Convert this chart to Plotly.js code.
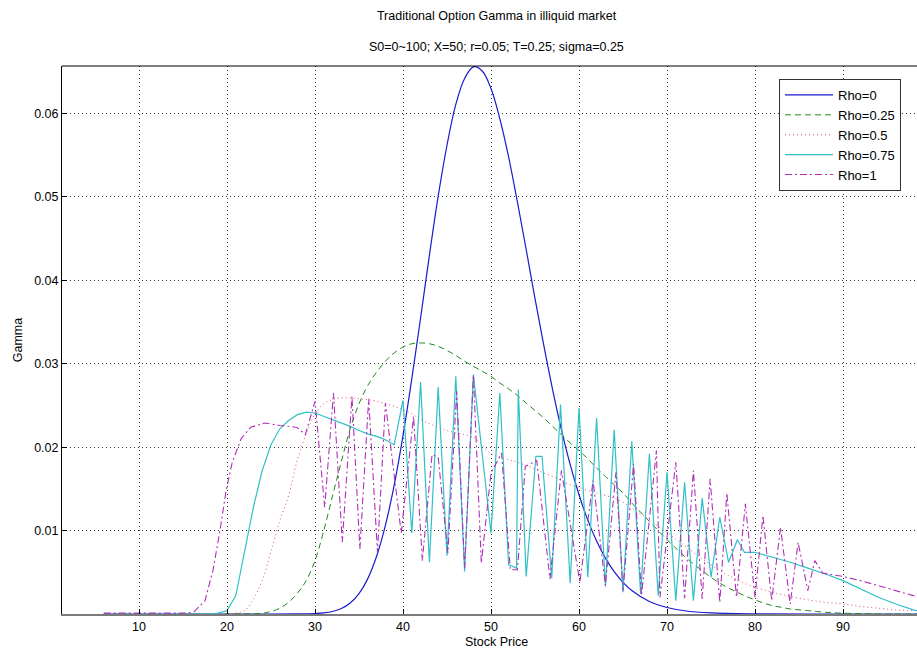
<!DOCTYPE html>
<html>
<head>
<meta charset="utf-8">
<script src="https://cdn.plot.ly/plotly-3.0.1.min.js"></script>
<style>
html,body{margin:0;padding:0;overflow:hidden;background:#fff;width:917px;height:657px;}
#chart{width:940px;height:657px;}
</style>
</head>
<body>
<div id="chart"></div>
<script>
// ---- data ----
var seriesNames = ["Rho=0", "Rho=0.25", "Rho=0.5", "Rho=0.75", "Rho=1"];
var xTicks = [10, 20, 30, 40, 50, 60, 70, 80, 90];
var yTicks = [0.01, 0.02, 0.03, 0.04, 0.05, 0.06];
var yTickLabels = ["0.01", "0.02", "0.03", "0.04", "0.05", "0.06"];

var rho0X = [6,10,15,20,25,28,30,31,32,33,34,35,36,37,38,39,40,41,42,43,44,45,46,47,48,49,50,51,52,53,54,55,56,57,58,59,60,61,62,63,64,65,66,68,70,72,75,80,90,100];
var rho0Y = [0,0,0,0,0,0.000005,0.00005,0.00013,0.0003,0.00065,0.00131,0.00244,0.00424,0.00692,0.01063,0.01545,0.02138,0.0282,0.0355,0.0430,0.0501,0.0562,0.0611,0.0642,0.0656,0.0651,0.0630,0.0594,0.0548,0.0494,0.0437,0.0378,0.0322,0.0269,0.0221,0.0179,0.0143,0.01125,0.00874,0.0067,0.00508,0.0038,0.00282,0.0015,0.00078,0.00039,0.00013,0.00002,0,0];

var rho025X = [6,20,24,25,26,27,28,29,30,31,32,33,34,35,36,37,38,39,40,41,42,43,44,45,46,47,48,49,50,51,52,53,54,55,56,57,58,59,60,61,62,63,64,65,66,67,68,69,70,71,72,73,74,75,76,77,78,79,80,81,82,83,84,85,86,87,88,90,95,100];
var rho025Y = [0,0,0.0001,0.0003,0.0007,0.0014,0.0025,0.0040,0.0064,0.0100,0.0142,0.0183,0.0222,0.0252,0.0274,0.0290,0.0303,0.0313,0.0320,0.0324,0.0325,0.0324,0.0321,0.0316,0.0310,0.0303,0.0297,0.0291,0.0285,0.0277,0.0270,0.0262,0.0253,0.0244,0.0235,0.0225,0.0215,0.0205,0.0196,0.0186,0.0175,0.0165,0.0155,0.0145,0.0133,0.0122,0.0111,0.0100,0.0089,0.0079,0.0069,0.0060,0.0052,0.0044,0.0037,0.0031,0.0026,0.0021,0.0017,0.0013,0.0010,0.0008,0.0006,0.0005,0.0004,0.0003,0.0002,0.0001,0,0];

var rho05X = [6,19,21,22,23,24,25,26,27,28,29,30,31,32,33,34,35,36,37,38,39,40,41,42,43,44,45,46,47,48,49,50,51,52,53,54,55,56,57,58,59,60,61,62,63,64,65,66,67,68,69,70,71,72,73,74,75,76,77,78,79,80,82,84,86,88,90,92,94,96,98,100];
var rho05Y = [0,0,0.0001,0.0004,0.0018,0.0040,0.0075,0.0112,0.0142,0.0185,0.0216,0.0240,0.0252,0.0257,0.0259,0.0259,0.0258,0.0257,0.0255,0.0252,0.0249,0.0245,0.0240,0.0233,0.0228,0.0224,0.0220,0.0217,0.0215,0.0212,0.0203,0.0192,0.0188,0.0185,0.0182,0.0178,0.0174,0.0169,0.0165,0.0160,0.0155,0.0152,0.0148,0.0145,0.0142,0.0139,0.0134,0.0127,0.0120,0.0113,0.0105,0.0098,0.0090,0.0082,0.0074,0.0066,0.0059,0.0052,0.0046,0.0041,0.0036,0.0032,0.0026,0.0021,0.0017,0.0014,0.0012,0.0009,0.0007,0.0005,0.0004,0.0003];

var rho075X = [6,18,19,20,21,22,23,24,25,26,27,28,29,30,31,32,33,34,35,36,37,38,39,40,41,42,43,44,45,46,47,48,50,51,52,52.9,53.1,54,55.1,55.8,56.9,57.9,59,60,61,62,63,64,65,66,67,68,69,70,71,72,73,74,75,76,77,78,78.8,80,82,84,86,88,90,92,94,96,98,100];
var rho075Y = [0,0,0.0001,0.0004,0.0022,0.0075,0.0128,0.0172,0.0203,0.0222,0.0232,0.0239,0.0242,0.0241,0.0237,0.0233,0.0229,0.0225,0.0220,0.0216,0.0213,0.0209,0.0203,0.0256,0.0097,0.0278,0.0062,0.0272,0.0070,0.0285,0.0051,0.0287,0.0097,0.0265,0.0059,0.0055,0.0269,0.0045,0.0189,0.0189,0.0043,0.0251,0.0037,0.0247,0.0044,0.0235,0.0033,0.0221,0.0026,0.0207,0.0024,0.0192,0.0022,0.0170,0.0016,0.0158,0.0016,0.0139,0.0044,0.0116,0.0062,0.0089,0.0074,0.0074,0.0068,0.0062,0.0055,0.0048,0.0040,0.0030,0.0020,0.0012,0.0005,0.0001];

var rho1X = [6,15,16.2,17.5,18.4,19.2,19.9,20.6,21.6,22.7,24.3,26,27.9,28.9,30,31.1,32.1,33.1,34.2,35.1,36.1,37.1,38,39.8,41.2,42.2,43.3,44,45.1,46.1,47,48,48.9,50,51.2,52.2,53,53.9,55.2,56.7,58,60.1,61.6,63,64.2,65,66.2,67.1,68.8,69.2,71,72,73,74,74.9,76,76.8,77.9,78.9,80,80.9,81.9,82.9,84,84.9,86,86.8,87.7,90,92,94,96,98,100];
var rho1Y = [0.0001,0.0001,0.0002,0.0016,0.0052,0.0100,0.0148,0.0182,0.0210,0.0224,0.0229,0.0226,0.0224,0.0215,0.0255,0.0128,0.0265,0.0086,0.0261,0.0078,0.0258,0.0074,0.0253,0.0097,0.0237,0.0064,0.0191,0.0188,0.0073,0.0267,0.0055,0.0287,0.0061,0.0169,0.0193,0.0053,0.0053,0.0177,0.0184,0.0042,0.0172,0.0038,0.0160,0.0034,0.0170,0.0028,0.0180,0.0022,0.0196,0.0020,0.0182,0.0019,0.0172,0.0018,0.0162,0.0014,0.0145,0.0020,0.0132,0.0020,0.0118,0.0016,0.0104,0.0012,0.0086,0.0028,0.0064,0.0049,0.0045,0.0040,0.0034,0.0028,0.0022,0.0017];

// ---- traces ----
var traces = [
  {x: rho0X, y: rho0Y, name: seriesNames[0], type: "scatter", mode: "lines",
   line: {color: "#1a1ad0", width: 1.2, shape: "spline"}},
  {x: rho025X, y: rho025Y, name: seriesNames[1], type: "scatter", mode: "lines",
   line: {color: "#1f8a1f", width: 1, dash: "6px,4px", shape: "spline"}},
  {x: rho05X, y: rho05Y, name: seriesNames[2], type: "scatter", mode: "lines",
   line: {color: "#e0507a", width: 1, dash: "1px,3px", shape: "spline"}},
  {x: rho075X, y: rho075Y, name: seriesNames[3], type: "scatter", mode: "lines",
   line: {color: "#30c0c8", width: 1.2}},
  {x: rho1X, y: rho1Y, name: seriesNames[4], type: "scatter", mode: "lines",
   line: {color: "#b030b8", width: 1.1, dash: "7px,3px,2px,3px"}}
];

var fontFam = "Liberation Sans, Arial, sans-serif";

var layout = {
  width: 940, height: 657,
  margin: {l: 62, r: 9, t: 66, b: 43},
  paper_bgcolor: "#ffffff", plot_bgcolor: "#ffffff",
  font: {family: fontFam, size: 12, color: "#000"},
  showlegend: true,
  title: {text: "Traditional Option Gamma in illiquid market",
          font: {family: fontFam, size: 12.5, color: "#000"},
          x: 0.5, xref: "paper", y: 1 - 16/657, yref: "container", yanchor: "middle"},
  xaxis: {
    range: [1.25, 100], tickmode: "array", tickvals: xTicks,
    ticks: "inside", ticklen: 5, tickcolor: "#000",
    showgrid: true, gridcolor: "#333", griddash: "1px,3px", gridwidth: 1,
    zeroline: false, showline: true, linecolor: "#7a7a7a", linewidth: 2,
    tickfont: {family: fontFam, size: 12.5},
    title: {text: "Stock Price", font: {family: fontFam, size: 12.5}, standoff: 4}
  },
  yaxis: {
    range: [0, 0.0657], tickmode: "array", tickvals: yTicks, ticktext: yTickLabels,
    ticks: "inside", ticklen: 5, tickcolor: "#000",
    showgrid: true, gridcolor: "#333", griddash: "1px,3px", gridwidth: 1,
    zeroline: false, showline: true, linecolor: "#000", linewidth: 1,
    tickfont: {family: fontFam, size: 12.5},
    title: {text: "Gamma", font: {family: fontFam, size: 12.5}, standoff: 8}
  },
  legend: {
    x: (779 - 62) / 869, y: (614 - 79) / 548, xanchor: "left", yanchor: "top",
    bgcolor: "#ffffff", bordercolor: "#333", borderwidth: 1,
    font: {family: fontFam, size: 13, color: "#000"},
    itemwidth: 48, tracegroupgap: 0
  },
  annotations: [
    {text: "S0=0~100; X=50; r=0.05; T=0.25; sigma=0.25", xref: "paper", yref: "paper",
     x: 0.5, y: 1 + (66 - 47) / 548, xanchor: "center", yanchor: "middle",
     showarrow: false, font: {family: fontFam, size: 12.5, color: "#000"}}
  ],
  shapes: [
    {type: "line", xref: "paper", yref: "paper", x0: 0, x1: 1, y0: 1, y1: 1,
     line: {color: "#000", width: 1}}
  ]
};

Plotly.newPlot("chart", traces, layout, {displayModeBar: false, staticPlot: true});
</script>
</body>
</html>
